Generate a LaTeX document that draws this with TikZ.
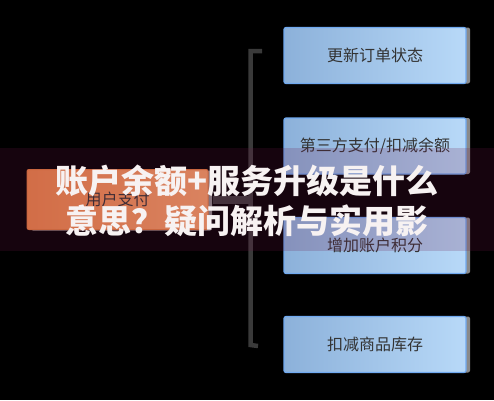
\documentclass[tikz,border=0pt]{standalone}
\usepackage{fontspec}
\newfontfamily\cjk{Noto Sans CJK SC}
\usetikzlibrary{shadows}
\definecolor{blueL}{HTML}{8CB1DA}
\definecolor{blueR}{HTML}{B8D9F8}
\definecolor{blueEdge}{HTML}{70A9F0}
\definecolor{orangeL}{HTML}{EC8448}
\definecolor{orangeR}{HTML}{F59E66}
\definecolor{orangeEdge}{HTML}{E07A3E}
\definecolor{shadowgray}{HTML}{8A8A8A}
\definecolor{boxtext}{HTML}{333333}
\definecolor{linegray}{HTML}{3A3A3A}
\definecolor{bandc}{RGB}{110,22,70}
\definecolor{titlec}{HTML}{F7F2F2}
\begin{document}
\begin{tikzpicture}[x=1pt,y=-1pt,
  boxfont/.style={font=\cjk\fontsize{16}{16}\selectfont, text=boxtext},
  bluebox/.style={boxfont, draw=blueEdge, line width=1.2pt, rounded corners=2pt,
    left color=blueL, right color=blueR, minimum width=182pt, minimum height=56pt,
    inner sep=0pt, general shadow={fill=shadowgray, shadow xshift=4pt, shadow yshift=0pt}},
  paybox/.style={boxfont, draw=orangeEdge, line width=1pt, rounded corners=2pt,
    left color=orangeL, right color=orangeR, minimum width=181pt, minimum height=60pt,
    inner sep=0pt, general shadow={fill=shadowgray, shadow xshift=4pt, shadow yshift=-1pt}},
  bracketline/.style={draw=linegray, line width=4.5pt},
  conn/.style={draw=linegray, line width=8pt},
  titlefont/.style={font=\cjk\bfseries\fontsize{33}{33}\selectfont, text=titlec, inner sep=0pt}
]
\useasboundingbox (0,0) rectangle (494,400);
\fill[black] (0,0) rectangle (494,400);

% bracket
\coordinate (bt) at (250.5,51);
\coordinate (bb) at (250.5,345);
\coordinate (btick) at (262,51);
\coordinate (bbtick) at (258,346);
\draw[bracketline] (btick) -- (bt) -- (bb) -- (bbtick);

% boxes
\node[paybox] (pay) at (117.5,199.5) {用户支付};
\node[bluebox] (b1) at (375,55.5) {更新订单状态};
\node[bluebox] (b2) at (375,146) {第三方支付/扣减余额};
\node[bluebox] (b3) at (375,245.5) {增加账户积分};
\node[bluebox] (b4) at (375,344.5) {扣减商品库存};

% connector from payment box to bracket
\draw[conn] ([xshift=4pt]pay.east) -- (pay.east -| bt);

% overlay band
\fill[bandc, opacity=0.2] (0,148) rectangle (494,251);

% title
\node[titlefont] (t1) at (247,181) {账户余额+服务升级是什么};
\node[titlefont] (t2) at (247,221) {意思？疑问解析与实用影};
\end{tikzpicture}
\end{document}
